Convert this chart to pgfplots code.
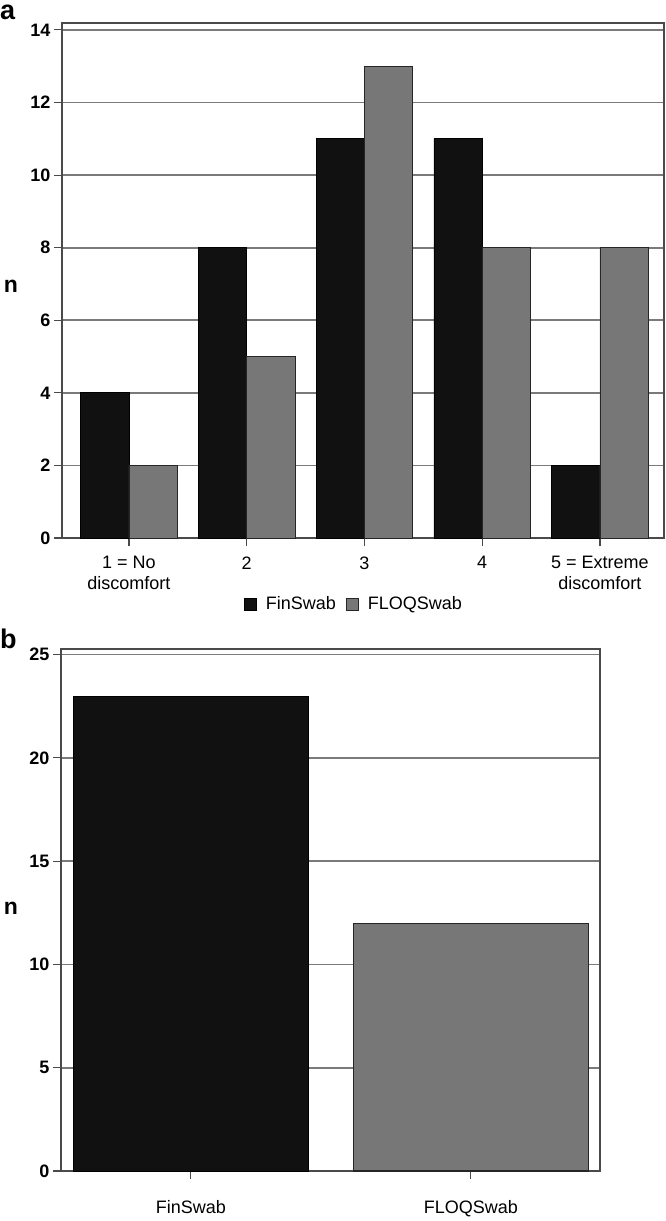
\documentclass[border=0pt]{standalone}
\usepackage{fontspec}
\setmainfont{Liberation Sans}
\usepackage{pgfplots}
\pgfplotsset{compat=1.18}
\definecolor{barblack}{HTML}{111111}
\definecolor{bargray}{HTML}{777777}
\definecolor{gridgray}{HTML}{7A7A7A}
\definecolor{framegray}{HTML}{4A4A4A}
\pgfplotsset{
  mystyle/.style={
    scale only axis,
    axis line style={draw=framegray, line width=1.7pt},
    ymajorgrids,
    major grid style={draw=gridgray, line width=1.7pt},
    tick style={draw=framegray, line width=1.1pt},
    major tick length=8pt,
    tick align=outside,
    tick pos=left,
    /pgf/number format/assume math mode=true,
    yticklabel style={font=\fontsize{18}{20}\selectfont\bfseries},
    xticklabel style={font=\fontsize{18}{21}\selectfont, align=center},
    every axis y label/.style={font=\fontsize{23}{24}\selectfont\bfseries, anchor=center},
  },
  sq/.style={legend image code/.code={\draw[##1] (0pt,-6pt) rectangle (12pt,6pt);}},
}
\begin{document}
\begin{tikzpicture}
\useasboundingbox (0,0) rectangle (666pt,-1221pt);
\node[font=\fontsize{27}{28}\selectfont\bfseries, inner sep=0pt, anchor=base west] at (0pt,-19pt) {a};
\node[font=\fontsize{27}{28}\selectfont\bfseries, inner sep=0pt, anchor=base west] at (0pt,-648pt) {b};
% Panel a
\begin{axis}[mystyle,
  at={(62pt,-538pt)}, anchor=south west,
  width=602pt, height=515pt,
  xmin=-0.569, xmax=4.544, ymin=0, ymax=14.19,
  ytick={0,2,4,6,8,10,12,14},
  xtick={0,1,2,3,4},
  xticklabels={{1 = No\\discomfort},2,3,4,{5 = Extreme\\discomfort}},
  xticklabel style={yshift=-7pt},
  ylabel={n},
  every axis y label/.append style={at={(axis description cs:-0.0847,0.489)}},
  legend columns=2,
  legend style={draw=none, fill=none, at={(axis description cs:0.485,-0.128)}, anchor=center,
    font=\fontsize{18}{20}\selectfont, column sep=7pt,
    /tikz/every even column/.append style={column sep=8pt}},
]
\addplot[ybar, sq, bar width=0.41, bar shift=-0.205, fill=barblack, draw=black, line width=0.8pt]
  coordinates {(0,4) (1,8) (2,11) (3,11) (4,2)};
\addlegendentry{FinSwab}
\addplot[ybar, sq, bar width=0.41, bar shift=0.205, fill=bargray, draw=black!85, line width=0.8pt]
  coordinates {(0,2) (1,5) (2,13) (3,8) (4,8)};
\addlegendentry{FLOQSwab}
\end{axis}
% Panel b
\begin{axis}[mystyle,
  at={(61pt,-1171pt)}, anchor=south west,
  width=539pt, height=522pt,
  xmin=-0.464, xmax=1.461, ymin=0, ymax=25.27,
  ytick={0,5,10,15,20,25},
  xtick={0,1},
  xticklabels={FinSwab,FLOQSwab},
  xticklabel style={yshift=-18pt},
  ylabel={n},
  every axis y label/.append style={at={(axis description cs:-0.0928,0.504)}},
]
\addplot[ybar, bar width=0.84, bar shift=0, fill=barblack, draw=black, line width=0.8pt]
  coordinates {(0,23)};
\addplot[ybar, bar width=0.84, bar shift=0, fill=bargray, draw=black!85, line width=1.2pt]
  coordinates {(1,12)};
\end{axis}
\end{tikzpicture}
\end{document}
